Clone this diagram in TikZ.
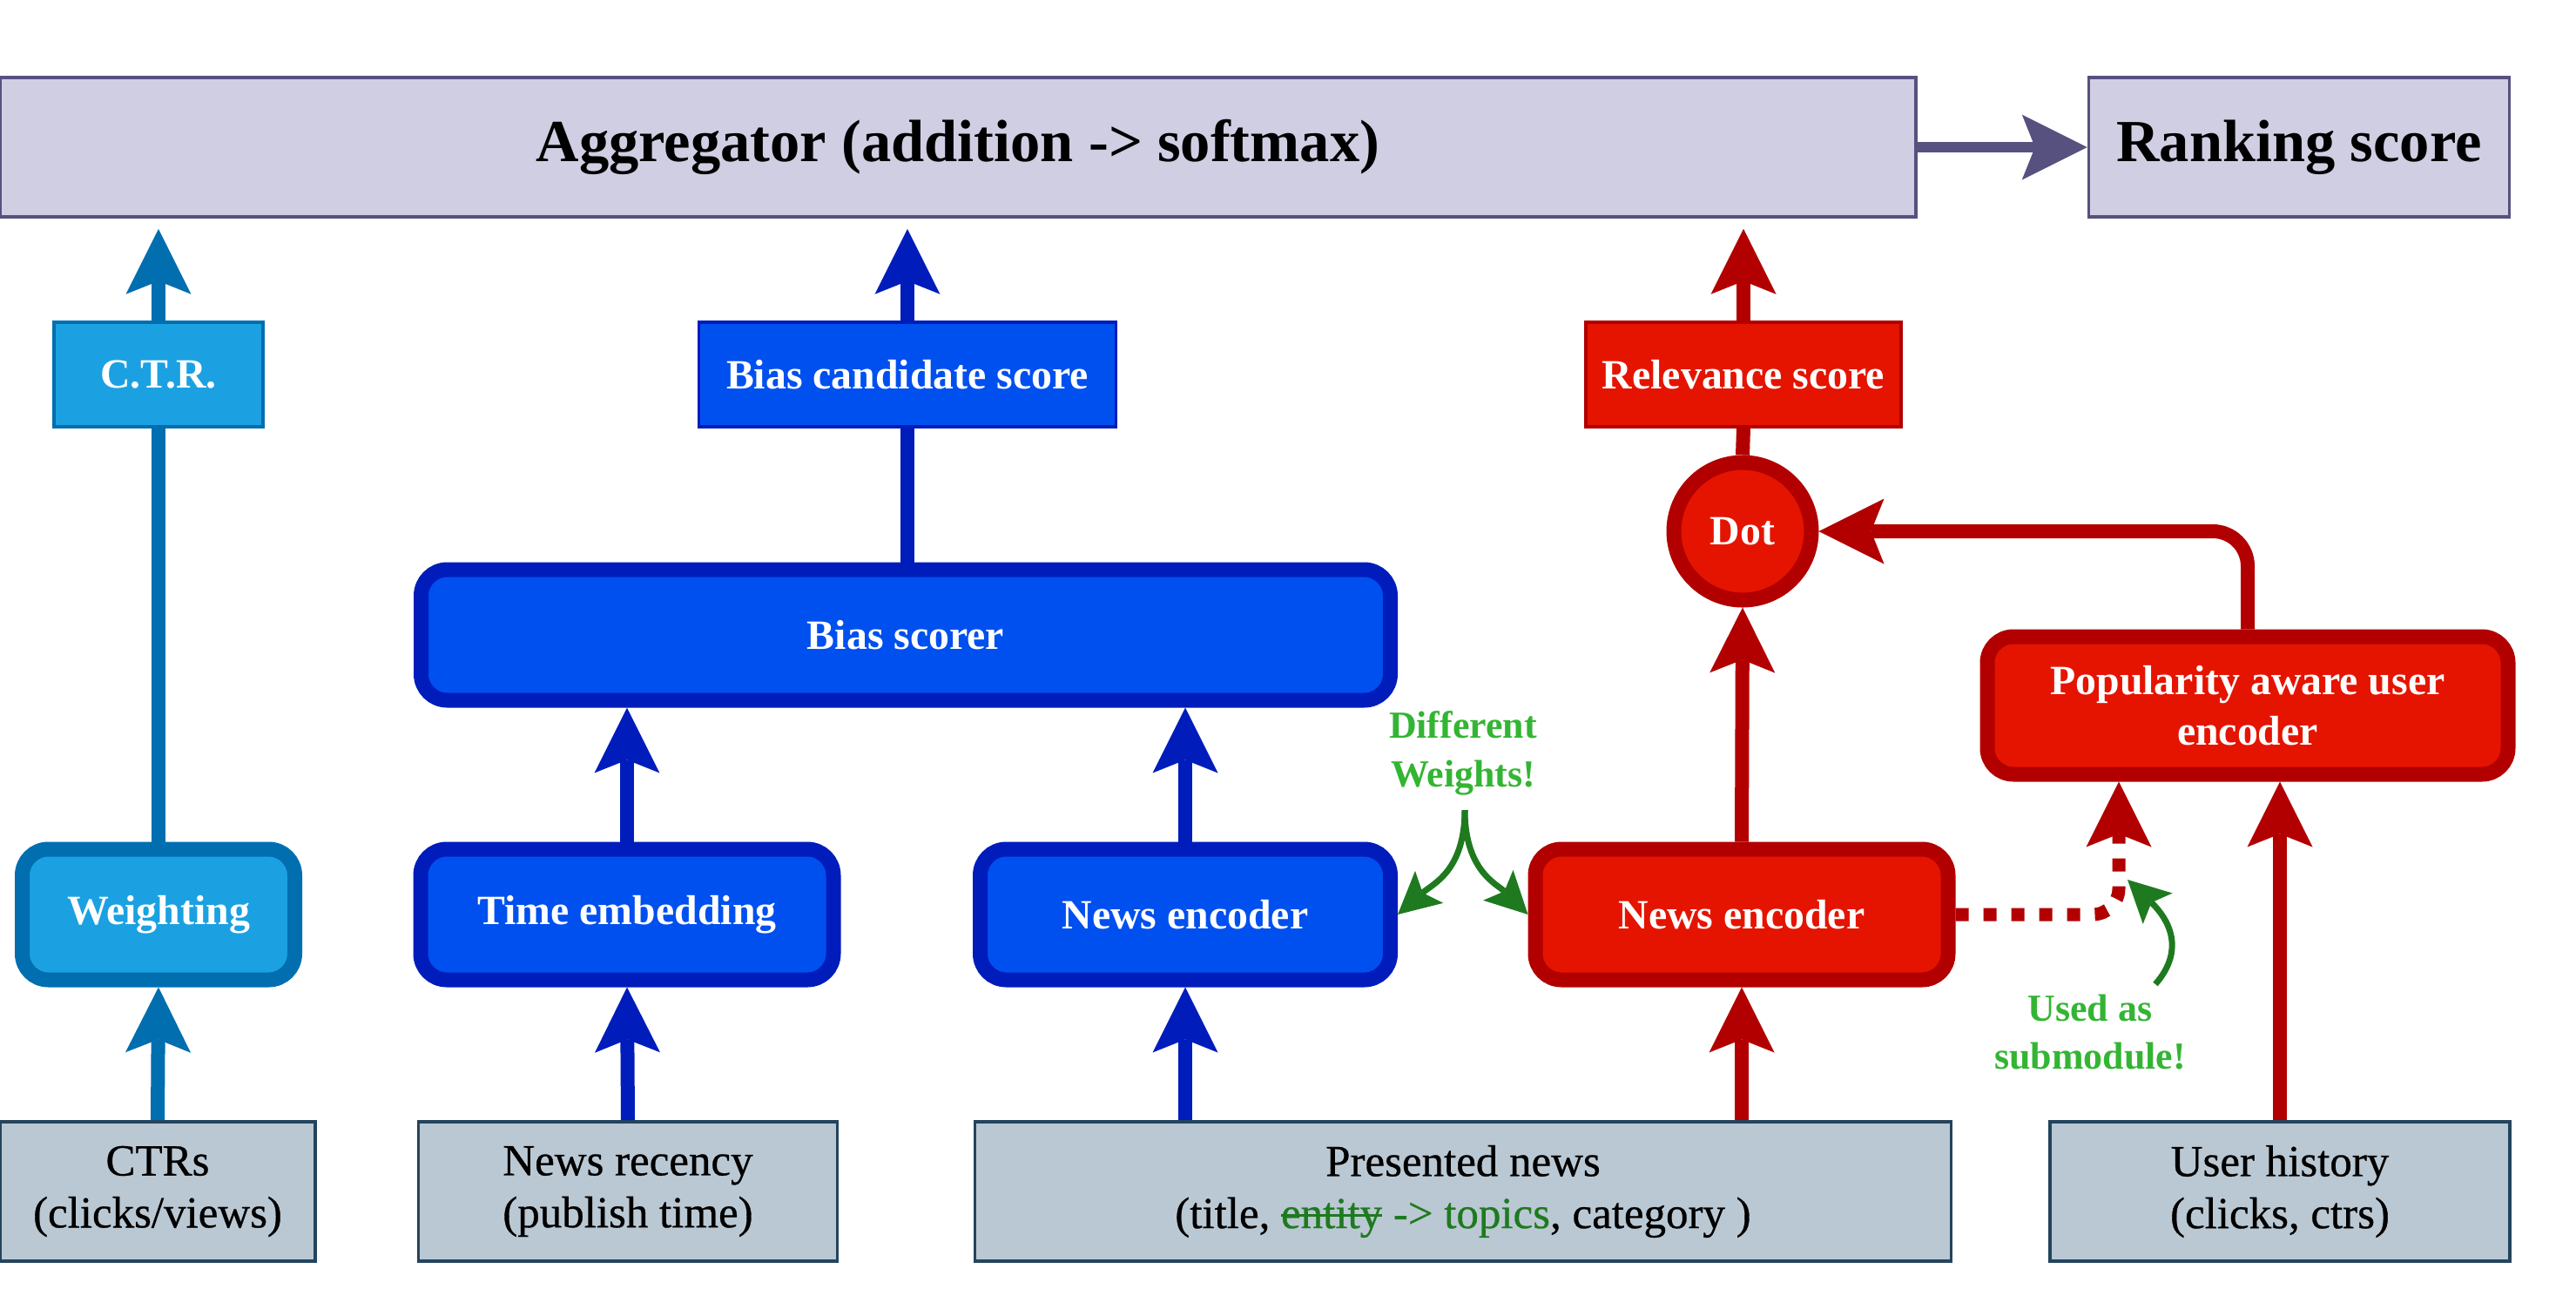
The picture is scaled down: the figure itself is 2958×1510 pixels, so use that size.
\documentclass[tikz,border=0pt]{standalone}
\usepackage{fontspec}
\setmainfont{Liberation Serif}
\newfontfamily\heavyserif{Liberation Serif}[FakeBold=0.6]
\usepackage{xcolor}
\definecolor{mlav}{HTML}{D0CEE2}
\definecolor{mlavd}{HTML}{56517E}
\definecolor{mcyan}{HTML}{1BA1E2}
\definecolor{mcyand}{HTML}{006EAF}
\definecolor{mblue}{HTML}{0050EF}
\definecolor{mblued}{HTML}{001DBC}
\definecolor{mred}{HTML}{E51400}
\definecolor{mredd}{HTML}{B20000}
\definecolor{mgray}{HTML}{BAC8D3}
\definecolor{mgrayd}{HTML}{23445D}
\definecolor{mgreen}{HTML}{1F7A1F}
\definecolor{mgreenl}{HTML}{33B533}
\usepackage{tikz}
\usetikzlibrary{arrows.meta}
\newcommand\aggfont{\fontsize{19.5}{23}\selectfont\bfseries}
\newcommand\boxfont{\fontsize{13.6}{16.7}\selectfont\bfseries}
\newcommand\infont{\heavyserif\fontsize{14.5}{17}\selectfont}
\newcommand\notefont{\fontsize{12.5}{15.8}\selectfont\bfseries}
\newsavebox\strikebox
\newcommand\strikeword[1]{\sbox\strikebox{#1}\rlap{\raisebox{0.55ex}{\rule{\wd\strikebox}{0.8pt}}}\usebox\strikebox}
\tikzset{
  sq/.style={draw, line width=1pt, minimum height=12mm, inner sep=0pt, font=\boxfont, text=white},
  rnd/.style={draw, rounded corners=3mm, line width=1.7mm, minimum height=15mm, font=\boxfont, text=white, align=center},
  inbox/.style={draw=mgrayd, fill=mgray, line width=1.1pt, minimum height=16mm, font=\infont, align=center},
  up/.style={line width=1.6mm, -{Stealth[length=7.5mm, width=7.5mm, inset=1.5mm, line width=0pt]}},
  flat/.style={line width=1.6mm},
  note/.style={line width=0.7mm, draw=mgreen, -{Stealth[length=4.8mm, width=4.9mm, inset=1mm, line width=0pt]}}
}
\begin{document}
\begin{tikzpicture}[x=0.1mm, y=-0.1mm]
\useasboundingbox (0,0) rectangle (2958,1510);
\node[sq, fill=mlav, draw=mlavd, minimum width=220mm, minimum height=16mm, font=\aggfont, text=black] (agg) at (1100,169) {Aggregator (addition -> softmax)};
\node[sq, fill=mlav, draw=mlavd, minimum width=48.3mm, minimum height=16mm, font=\aggfont, text=black] (rank) at (2640,169) {Ranking score};
\node[sq, fill=mcyan, draw=mcyand, minimum width=24mm] (ctr) at (182,430) {C.T.R.};
\node[sq, fill=mblue, draw=mblued, minimum width=47.9mm] (bcs) at (1042,430) {Bias candidate score};
\node[sq, fill=mred, draw=mredd, minimum width=36.2mm] (rel) at (2002,430) {Relevance score};
\node[circle, draw=mredd, fill=mred, line width=1.7mm, minimum size=15.8mm, inner sep=0pt, font=\boxfont, text=white] (dot) at (2001,610) {Dot};
\node[rnd, fill=mblue, draw=mblued, minimum width=111.3mm] (scorer) at (1040,729) {Bias scorer};
\node[rnd, fill=mred, draw=mredd, minimum width=59.8mm, minimum height=15.8mm] (pop) at (2581,810) {Popularity aware user\\encoder};
\node[rnd, fill=mcyan, draw=mcyand, minimum width=31.3mm] (wgt) at (182,1050) {Weighting};
\node[rnd, fill=mblue, draw=mblued, minimum width=47.4mm] (time) at (720,1050) {Time embedding};
\node[rnd, fill=mblue, draw=mblued, minimum width=47.1mm] (bne) at (1361,1050) {News encoder};
\node[rnd, fill=mred, draw=mredd, minimum width=47.4mm] (rne) at (2000,1050) {News encoder};
\node[inbox, minimum width=36.2mm] (ctrs) at (181,1368) {CTRs\\(clicks/views)};
\node[inbox, minimum width=48.1mm] (rec) at (721,1368) {News recency\\(publish time)};
\node[inbox, minimum width=112.1mm] (pres) at (1680,1368) {Presented news\\(title, \textcolor{mgreen}{\strikeword{entity} -> topics}, category )};
\node[inbox, minimum width=52.8mm] (hist) at (2618,1368) {User history\\(clicks, ctrs)};
\node[font=\notefont, text=mgreenl, align=center] (diff) at (1680,865) {Different\\Weights!};
\node[font=\notefont, text=mgreenl, align=center] (used) at (2400,1185) {Used as\\submodule!};
\coordinate (split) at (1682,930);
\coordinate (usedtail) at (2475,1130);
\coordinate (usedtip) at (2443,1010);

\draw[up, draw=mlavd, line width=1.2mm] (agg.east) -- (rank.west);
\draw[up, draw=mcyand, shorten >=1.2mm] (ctr.north) -- (ctr.north |- agg.south);
\draw[flat, draw=mcyand] (wgt.north) -- (ctr.south);
\draw[up, draw=mcyand] (ctrs.north) -- (wgt.south);
\draw[up, draw=mblued, shorten >=1.2mm] (bcs.north) -- (bcs.north |- agg.south);
\draw[flat, draw=mblued] (bcs.south |- scorer.north) -- (bcs.south);
\draw[up, draw=mblued] (time.north) -- (time.north |- scorer.south);
\draw[up, draw=mblued] (rec.north) -- (time.south);
\draw[up, draw=mblued] (bne.north) -- (bne.north |- scorer.south);
\draw[up, draw=mblued] (bne.south |- pres.north) -- (bne.south);
\draw[up, draw=mredd] (rne.south |- pres.north) -- (rne.south);
\draw[up, draw=mredd] (rne.north) -- (dot.south);
\draw[flat, draw=mredd] (dot.north) -- (rel.south);
\draw[up, draw=mredd, shorten >=1.2mm] (rel.north) -- (rel.north |- agg.south);
\draw[up, draw=mredd, rounded corners=4mm] (pop.north) |- (dot.east);
\draw[up, draw=mredd] (hist.north) -- (hist.north |- pop.south);
\draw[up, draw=mredd, line width=1.5mm, dash pattern=on 1.5mm off 1.7mm, rounded corners=3mm] (rne.east) -| ([xshift=-14.8mm]pop.south);
\draw[note] (split) .. controls (1682,1000) and (1645,1015) .. (bne.east);
\draw[note] (split) .. controls (1682,1000) and (1719,1015) .. (rne.west);
\draw[note] (usedtail) .. controls (2510,1090) and (2490,1055) .. (usedtip);
\end{tikzpicture}
\end{document}
